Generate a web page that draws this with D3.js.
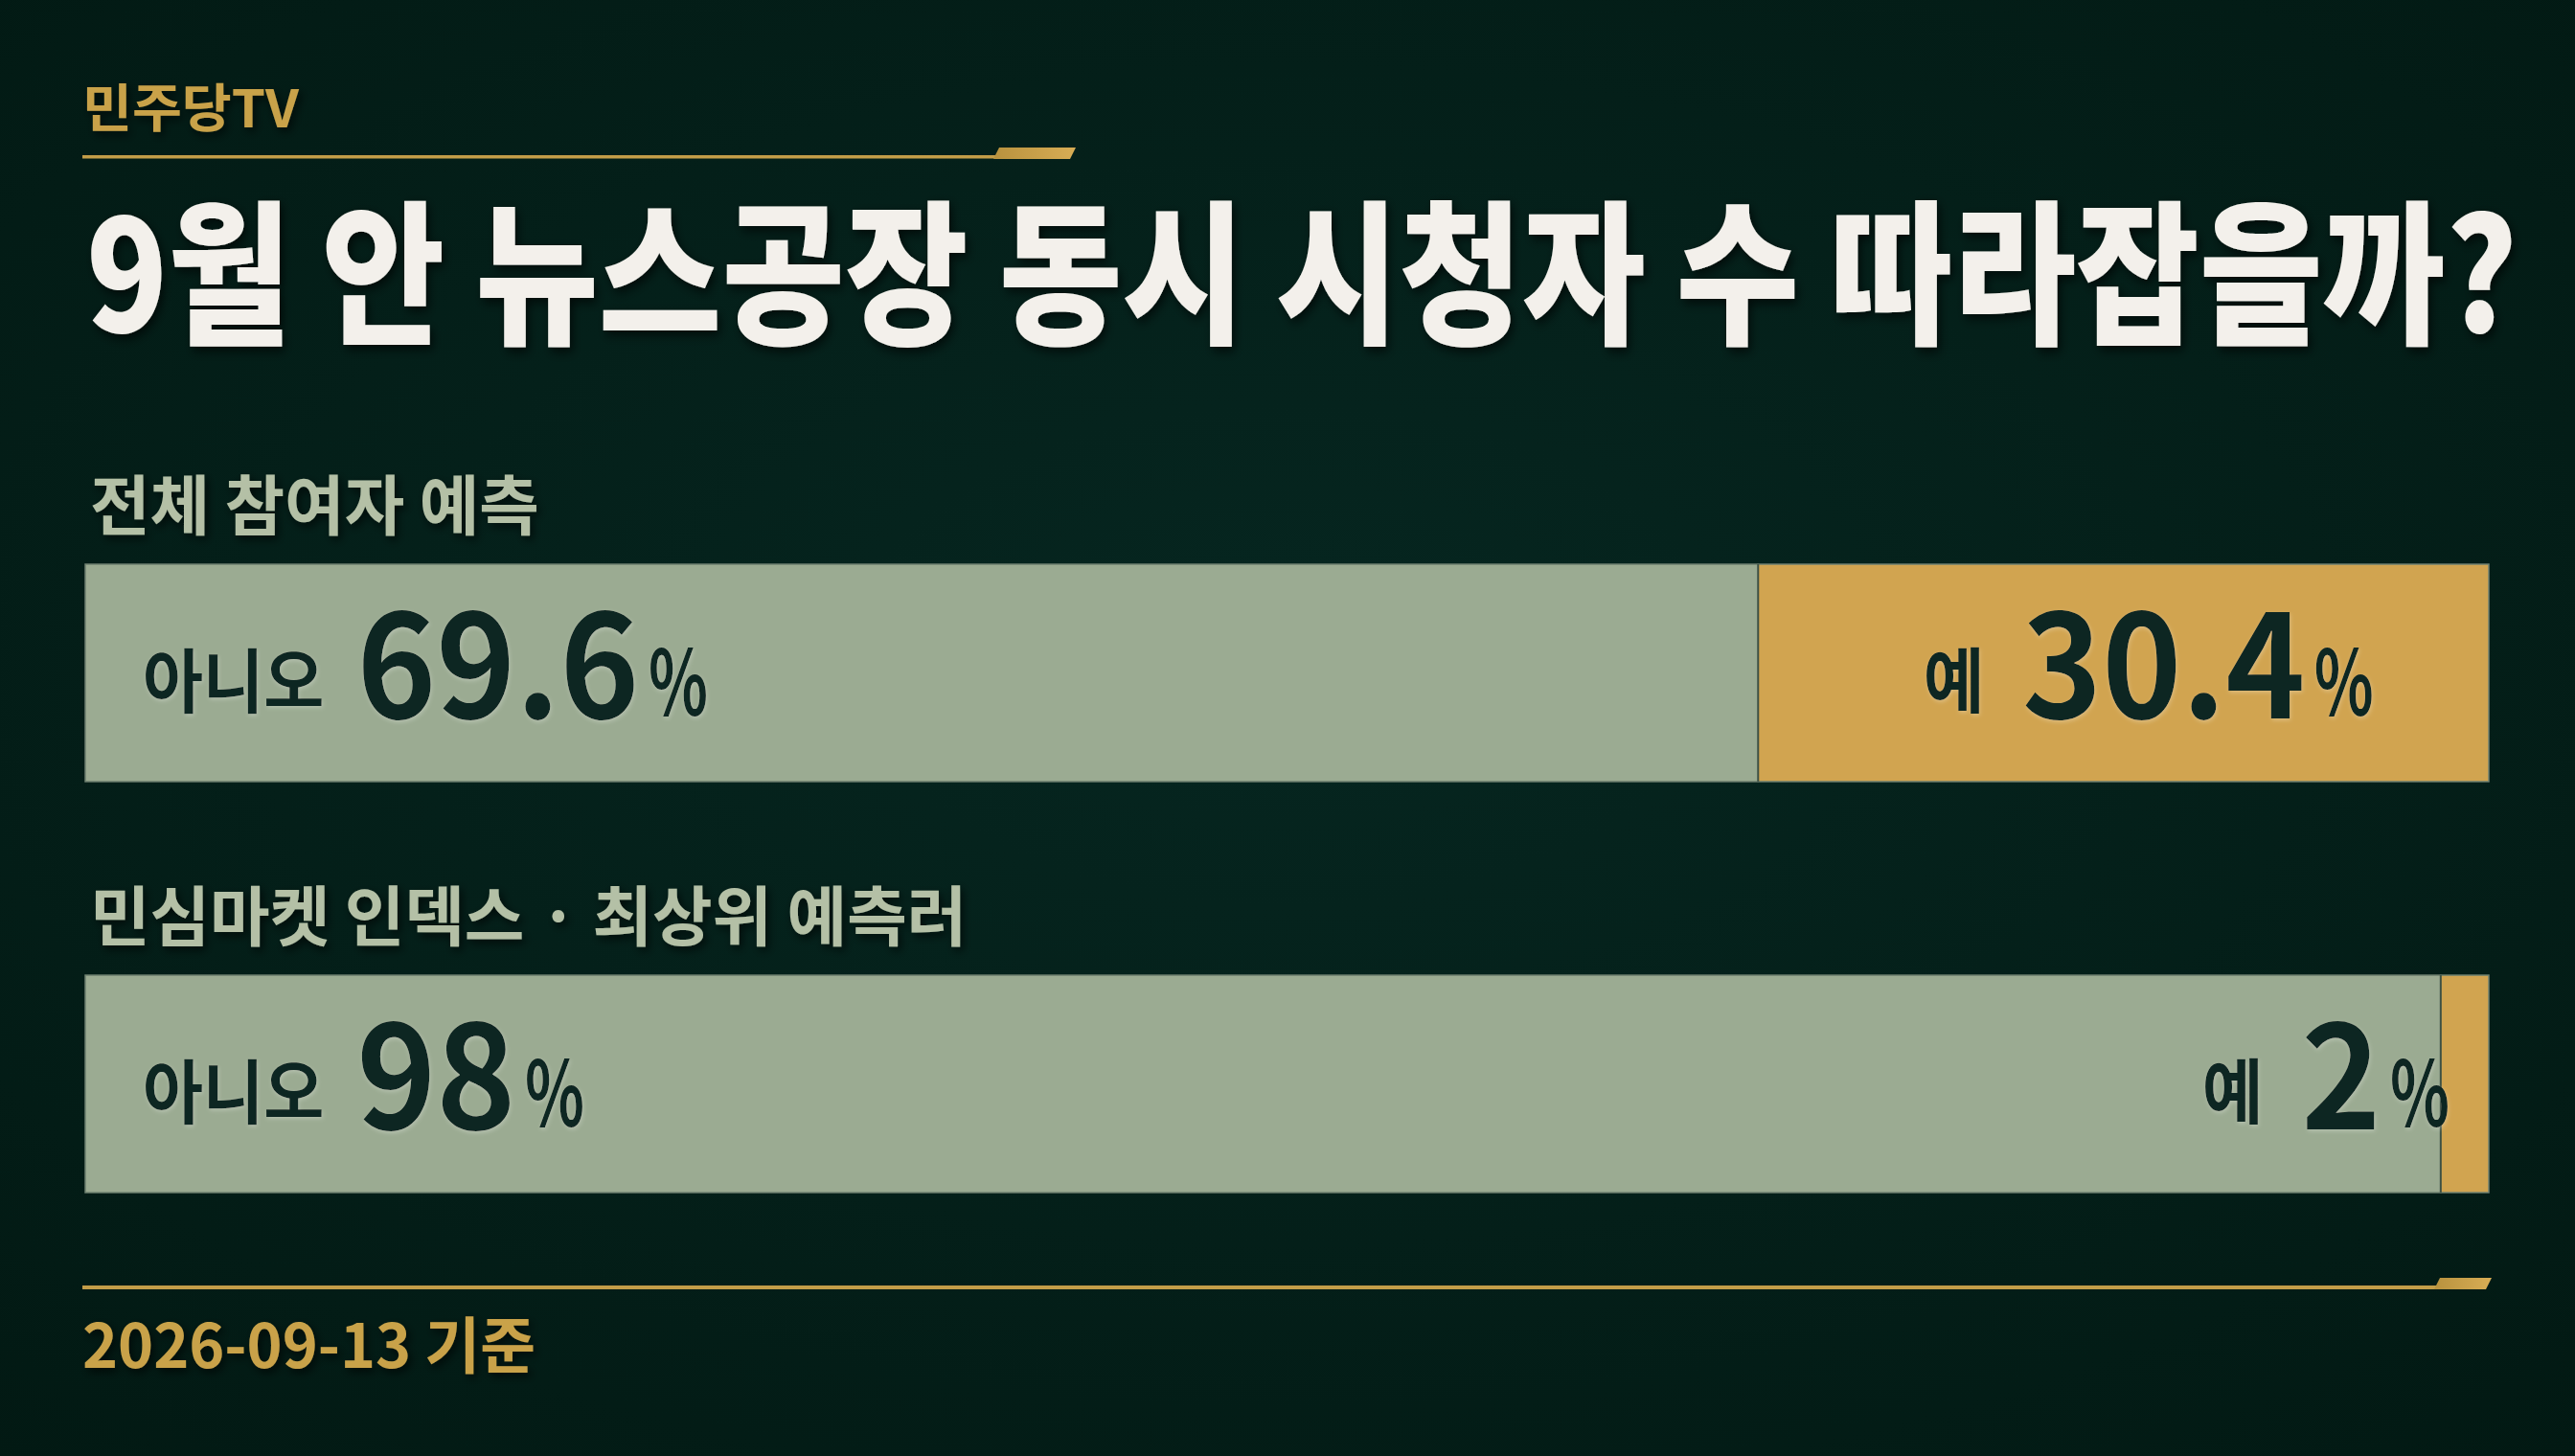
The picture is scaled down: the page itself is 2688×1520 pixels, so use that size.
<!DOCTYPE html>
<html><head><meta charset="utf-8">
<script src="https://cdn.jsdelivr.net/npm/d3@7"></script>
<style>html,body{margin:0;padding:0;background:#031d17;overflow:hidden}</style>
</head><body>
<svg id="c" width="2688" height="1520"></svg>
<script>
// ---- data ----
const brand = "민주당TV";
const title = "9월 안 뉴스공장 동시 시청자 수 따라잡을까?";
const rowTitles = ["전체 참여자 예측", "민심마켓 인덱스 · 최상위 예측러"];
const noValues = [69.6, 98];
const yesValues = [30.4, 2];
const noLabel = "아니오";
const yesLabel = "예";
const footnote = "2026-09-13 기준";

const W = 2688, H = 1520;
const FONT = "'Noto Sans CJK KR','Noto Sans',sans-serif";
const svg = d3.select("#c");
const defs = svg.append("defs");

const bg = defs.append("radialGradient").attr("id","bg").attr("cx","50%").attr("cy","45%").attr("r","75%");
bg.append("stop").attr("offset","0%").attr("stop-color","#062620");
bg.append("stop").attr("offset","100%").attr("stop-color","#021913");
const gold = defs.append("linearGradient").attr("id","gold").attr("x1","0").attr("x2","1");
gold.append("stop").attr("offset","0%").attr("stop-color","#b8923e");
gold.append("stop").attr("offset","100%").attr("stop-color","#d8ad55");
const sh = defs.append("filter").attr("id","sh").attr("x","-20%").attr("y","-50%").attr("width","140%").attr("height","200%");
sh.append("feDropShadow").attr("dx",3).attr("dy",4).attr("stdDeviation",5).attr("flood-color","#000").attr("flood-opacity",0.65);
const sh2 = defs.append("filter").attr("id","sh2").attr("x","-20%").attr("y","-50%").attr("width","140%").attr("height","200%");
sh2.append("feDropShadow").attr("dx",1).attr("dy",2).attr("stdDeviation",2).attr("flood-color","#ffffff").attr("flood-opacity",0.25);

svg.append("rect").attr("width",W).attr("height",H).attr("fill","url(#bg)");

// fixed text (target width given as layout)
function fitText(parent, str, x, y, size, width, fill, weight) {
  return parent.append("text").attr("x", x).attr("y", y)
    .attr("font-family", FONT).attr("font-size", size).attr("font-weight", weight || 700)
    .attr("fill", fill).attr("filter", "url(#sh)")
    .attr("textLength", width).attr("lengthAdjust", "spacingAndGlyphs").text(str);
}

// brand + top rule
fitText(svg, brand, 86, 133, 54, 226, "#c9a24a");
svg.append("rect").attr("x",86).attr("y",162).attr("width",956).attr("height",3.5).attr("fill","#c39d48");
svg.append("polygon").attr("points","1043,154 1123,154 1117,166 1037,166").attr("fill","url(#gold)");

// title (vertically stretched to match the tall condensed face)
const tg = svg.append("g").attr("transform", "translate(0,347) scale(1,1.157)");
fitText(tg, title, 90, 0, 140, 2538, "#f3f0eb", 900);

// scales
const x = d3.scaleLinear().domain([0,100]).range([89, 2598]);
const y = d3.scaleBand().domain(rowTitles).range([589, 1245]).paddingInner(0.471).paddingOuter(0);
const fmt = v => (Math.round(v) === v ? String(v) : v.toFixed(1));
const SX = 0.94;

function valueLabel(g, word, wordSize, value, gap) {
  const t = g.append("text").attr("font-family", FONT).attr("font-weight", 700)
    .attr("fill", "#0b2620").attr("filter", "url(#sh2)");
  t.append("tspan").attr("font-size", wordSize).attr("dy", -12).text(word);
  t.append("tspan").attr("font-size", 150).attr("dx", gap).attr("dy", 12).text(fmt(value));
  t.append("tspan").attr("font-size", 94).attr("dx", 10).attr("dy", -3)
    .attr("textLength", 66).attr("lengthAdjust", "spacingAndGlyphs").text("%");
  const bb = t.node().getBBox();
  return (bb.x + bb.width) * SX;
}

rowTitles.forEach((rt, i) => {
  const top = y(rt), bh = y.bandwidth();
  const g = svg.append("g");
  svg.append("text").attr("x", 94).attr("y", top - 36)
    .attr("font-family", FONT).attr("font-size", 68).attr("font-weight", 700)
    .attr("fill", "#b4c0a6").attr("filter", "url(#sh)").text(rt);
  // bars
  g.append("rect").attr("x", x(0)).attr("y", top).attr("width", x(noValues[i]) - x(0)).attr("height", bh).attr("fill", "#9bab92");
  g.append("rect").attr("x", x(noValues[i])).attr("y", top).attr("width", x(100) - x(noValues[i])).attr("height", bh).attr("fill", "#d1a450");
  g.append("rect").attr("x", x(0)).attr("y", top).attr("width", x(100) - x(0)).attr("height", bh)
    .attr("fill", "none").attr("stroke", "#6f8070").attr("stroke-width", 1.5);
  g.append("line").attr("x1", x(noValues[i])).attr("x2", x(noValues[i])).attr("y1", top).attr("y2", top + bh)
    .attr("stroke", "#3d5044").attr("stroke-width", 2);

  // no label
  const ng = g.append("g");
  valueLabel(ng, noLabel, 73, noValues[i], 36);
  ng.attr("transform", `translate(${x(0) + 60},${top + 161}) scale(${SX},1)`);

  // yes label
  const yg = g.append("g");
  const yw = valueLabel(yg, yesLabel, 74, yesValues[i], 42);
  const segW = x(100) - x(noValues[i]);
  const endX = segW > yw + 160 ? x(100) - 120 : x(100) - 41;
  yg.attr("transform", `translate(${endX - yw},${top + 161}) scale(${SX},1)`);
});

// bottom rule + footnote
svg.append("rect").attr("x",86).attr("y",1342).attr("width",2458).attr("height",4).attr("fill","#c39d48");
svg.append("polygon").attr("points","2547,1334 2601,1334 2595,1346 2541,1346").attr("fill","url(#gold)");
fitText(svg, footnote, 86, 1428, 64, 473, "#c9a24a");
</script>
</body></html>
